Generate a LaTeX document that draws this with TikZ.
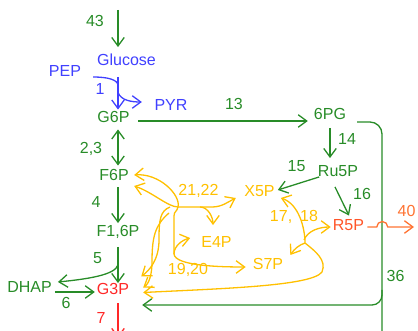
\documentclass[tikz,border=0pt]{standalone}
\usepackage{fontspec}
\setmainfont{Liberation Sans}
\usetikzlibrary{arrows.meta}
\definecolor{pathgreen}{RGB}{40,140,40}
\definecolor{pathblue}{RGB}{64,64,255}
\definecolor{pathyellow}{RGB}{255,192,0}
\definecolor{pathred}{RGB}{255,40,40}
\definecolor{pathorange}{RGB}{255,115,50}
\definecolor{r5pred}{RGB}{255,85,40}

\begin{document}
\begin{tikzpicture}[
        x=1pt, y=-1pt,
        >={Straight Barb[length=8.5pt,width=12.5pt]},
        every node/.style={inner sep=0pt, text height=11.5pt, text depth=0pt, font=\fontsize{16}{19}\selectfont},
        metab/.style={text=pathgreen},
        lbl/.style={text=pathgreen},
        gline/.style={draw=pathgreen, line width=1.3pt},
        garrow/.style={gline, ->},
        barrow/.style={draw=pathblue, line width=1.3pt, ->},
        yarrow/.style={draw=pathyellow, line width=1.3pt}
    ]
    \useasboundingbox (0,0) rectangle (418,331);

    % Nodes
    \node[metab, text=pathblue] (glc) at (126.5,60) {Glucose};
    \node[metab, text=pathblue] (pep) at (65,71) {PEP};
    \node[metab, text=pathblue] (pyr) at (171,105) {PYR};
    \node[metab] (g6p) at (113.5,116.5) {G6P};
    \node[metab] (pg) at (330,114) {6PG};
    \node[metab] (ru5p) at (338,171) {Ru5P};
    \node[metab, text=pathyellow] (x5p) at (259.5,191) {X5P};
    \node[metab, text=r5pred] (r5p) at (348.5,224.5) {R5P};
    \node[metab] (f6p) at (114,174.5) {F6P};
    \node[metab] (f16p) at (118,231) {F1,6P};
    \node[metab] (dhap) at (29.5,286.5) {DHAP};
    \node[metab, text=pathred] (g3p) at (113,288.5) {G3P};
    \node[metab, text=pathyellow] (e4p) at (216.5,242) {E4P};
    \node[metab, text=pathyellow] (s7p) at (268,264) {S7P};

    % Reaction numbers
    \node[lbl] (n43) at (95,21) {43};
    \node[lbl, text=pathblue] (n1) at (100,89) {1};
    \node[lbl] (n13) at (234,104) {13};
    \node[lbl] (n14) at (347,139) {14};
    \node[lbl] (n15) at (296.5,166) {15};
    \node[lbl] (n16) at (362,194) {16};
    \node[lbl, text=pathorange] (n40) at (406.5,211) {40};
    \node[lbl] (n23) at (91,147.5) {2,3};
    \node[lbl] (n4) at (96,202) {4};
    \node[lbl] (n5) at (97.5,258) {5};
    \node[lbl] (n6) at (66,303) {6};
    \node[lbl, text=pathred] (n7) at (101,317.5) {7};
    \node[lbl] (n36) at (395.5,276) {36};
    \node[lbl, text=pathyellow] (n2122) at (198.5,190) {21,22};
    \node[lbl, text=pathyellow] (n1718) at (294,216) {17,\hspace{8pt}18};
    \node[lbl, text=pathyellow] (n1920) at (188,269) {19,20};

    % Free ends and junctions
    \coordinate (in43) at (118,10);
    \coordinate (out7) at (118,338);
    \coordinate (out36) at (382,340);
    \coordinate (fork36) at (382,290);
    \coordinate (out40) at (414,227);
    \coordinate (tk1) at (178,207);
    \coordinate (tkE) at (200,207);
    \coordinate (taE) at (174,254);
    \coordinate (tk2) at (305,243);

    % Glycolysis
    \draw[garrow] (in43) -- ([shift={(-8.5,-7)}]glc.north);
    \draw[barrow] ([shift={(-8.5,11)}]glc.south) -- ([shift={(4.5,-1)}]g6p.north);
    \draw[draw=pathblue, line width=1.3pt] ([shift={(12,6)}]pep.east) .. controls +(14,0) and +(0,-6) .. ([shift={(4.5,-25)}]g6p.north);
    \draw[barrow] ([shift={(4.5,-18)}]g6p.north) .. controls +(3,8) and +(-10,0) .. ([shift={(-12.5,-3)}]pyr.west);
    \draw[garrow, <->] ([shift={(4.5,7)}]g6p.south) -- ([shift={(4,-3)}]f6p.north);
    \draw[garrow] ([shift={(4,7)}]f6p.south) -- ([shift={(0,-2)}]f16p.north);
    \draw[garrow] ([shift={(0,10)}]f16p.south) -- ([shift={(5,0.5)}]g3p.north);
    \draw[garrow] ([shift={(0,28)}]f16p.south) .. controls +(-3,10) and +(30,-3) .. ([shift={(6,-4.5)}]dhap.east);
    \draw[garrow] ([shift={(3,5.5)}]dhap.east) -- ([shift={(-2,3.5)}]g3p.west);
    \draw[draw=pathred, line width=1.3pt, ->] ([shift={(5,9)}]g3p.south) -- (out7);

    % Pentose phosphate
    \draw[garrow] ([shift={(8.5,4.5)}]g6p.east) -- ([shift={(-6,7)}]pg.west);
    \draw[garrow] ([shift={(0,8)}]pg.south) -- ([shift={(-8,-7)}]ru5p.north);
    \draw[garrow] ([shift={(-23,9)}]ru5p) -- ([shift={(3,-1)}]x5p.east);
    \draw[garrow] ([shift={(-3,10)}]ru5p.south) -- ([shift={(0.5,-3)}]r5p.north);
    \draw[gline, rounded corners=12pt] ([shift={(11,8)}]pg.east) -| (out36);
    \draw[garrow, rounded corners=10pt] (fork36) |- ([shift={(13,16.5)}]g3p.east);
    \draw[draw=pathorange, line width=1.3pt, ->] ([shift={(3,2.5)}]r5p.east) -- ++(9.5,0)
        arc[start angle=180, end angle=0, radius=5.5pt] -- (out40);

    % Transketolase and transaldolase
    \draw[yarrow, <->] ([shift={(5.3,0.5)}]f6p.east) .. controls +(25,-2) and +(3,-12) .. (tk1)
        .. controls +(-1,5) and +(0,-5) .. (174,216) -- (taE) .. controls +(1,12) and +(-25,0) .. ([shift={(-7,3)}]s7p.west);
    \draw[yarrow, <->] ([shift={(5.3,11.5)}]f6p.east) .. controls +(18,6) and +(-10,0) .. (tk1)
        -- (212,207) .. controls +(10,0) and +(-8,4) .. ([shift={(-8.4,7)}]x5p.west);
    \draw[yarrow, ->] (tkE) .. controls +(8,0) and +(0,-8) .. ([shift={(-3.5,-11)}]e4p.north);
    \draw[yarrow, ->] ([shift={(-8,0)}]tk1) .. controls +(-10,4) and +(0,-20) .. (159,240)
        .. controls +(0,20) and +(8,-6) .. ([shift={(12,-12)}]g3p.east);
    \draw[yarrow, ->] ([shift={(-9,6)}]tk1) .. controls +(-14,12) and +(0,-25) .. (152,262)
        .. controls +(0,12) and +(6,-4) .. ([shift={(14,-1)}]g3p.east);
    \draw[yarrow, ->] (taE) .. controls +(0,-8) and +(-8,2) .. ([shift={(-11,-4)}]e4p.west);
    \draw[yarrow, <->] ([shift={(6,7)}]x5p.east) .. controls +(18,6) and +(0,-15) .. (tk2)
        .. controls +(10,8) and +(5,-12) .. (322,272) .. controls +(-10,14) and +(80,-4) .. ([shift={(14,4)}]g3p.east);
    \draw[yarrow, ->] ([shift={(-1,-3)}]tk2) .. controls +(4,-10) and +(-10,0) .. ([shift={(-2,2.5)}]r5p.west);
    \draw[yarrow, ->] (tk2) .. controls +(-6,2) and +(4,-6) .. ([shift={(7,-9)}]s7p.east);
\end{tikzpicture}
\end{document}
